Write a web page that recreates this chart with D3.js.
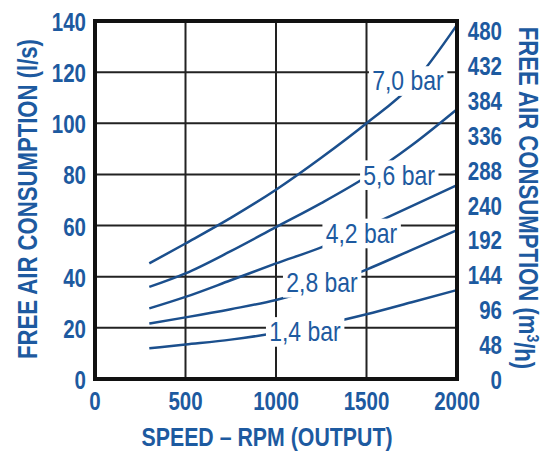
<!DOCTYPE html>
<html>
<head>
<meta charset="utf-8">
<script src="https://cdn.jsdelivr.net/npm/d3@7"></script>
<style>
  body { margin: 0; background: #fff; }
  text { font-family: "Liberation Sans", Arial, sans-serif; }
</style>
</head>
<body>
<script>
var outerWidth = 542;
var outerHeight = 452;

// speed (rpm) and free air consumption (l/s) for each pressure
var rpm = [300, 500, 750, 1000, 1250, 1500, 1750, 2000];
var bar14 = [12, 13.5, 15.4, 18, 21.2, 25.3, 30, 34.8];
var bar28 = [21.7, 24.1, 27.3, 30.9, 36, 42.8, 50.5, 58.2];
var bar42 = [27.6, 32.1, 38.6, 45.2, 51.5, 59.4, 67.6, 75.8];
var bar56 = [36, 41.3, 50, 59.4, 68.8, 79.1, 91.4, 105.5];
var bar70 = [45.2, 53, 63, 74, 86.5, 100, 115, 138.5];

var pressures = ['1,4 bar', '2,8 bar', '4,2 bar', '5,6 bar', '7,0 bar'];
var series = [bar14, bar28, bar42, bar56, bar70];
// where each pressure label sits (rpm, l/s)
var labelRpm = [1160, 1254, 1472, 1680, 1729];
var labelFlow = [18.7, 37.9, 57.2, 80, 116.8];

var xTicks = [0, 500, 1000, 1500, 2000];
var yTicks = [0, 20, 40, 60, 80, 100, 120, 140];
var y2Ticks = [0, 48, 96, 144, 192, 240, 288, 336, 384, 432, 480];

var blue = '#1d5aa0';
var lineBlue = '#1b4f8d';
var squeeze = 0.82; // condensed look

var svg = d3.select('body').append('svg')
  .attr('width', outerWidth)
  .attr('height', outerHeight);

var x = d3.scaleLinear().domain([0, 2000]).range([95, 457]);
var y = d3.scaleLinear().domain([0, 140]).range([379, 21]);
var y2 = d3.scaleLinear().domain([0, 480]).range([379, 30]);

function place(px, py, rot){
  return 'translate(' + px + ',' + py + ')' +
    (rot ? ' rotate(' + rot + ')' : '') + ' scale(' + squeeze + ',1)';
}

// grid
svg.append('g')
  .selectAll('line')
  .data(xTicks.slice(1, -1))
  .enter()
  .append('line')
  .attr('x1', function(d){ return x(d); })
  .attr('x2', function(d){ return x(d); })
  .attr('y1', y(0))
  .attr('y2', y(140))
  .attr('stroke', '#222')
  .attr('stroke-width', 2);

svg.append('g')
  .selectAll('line')
  .data(yTicks.slice(1, -1))
  .enter()
  .append('line')
  .attr('y1', function(d){ return y(d); })
  .attr('y2', function(d){ return y(d); })
  .attr('x1', x(0))
  .attr('x2', x(2000))
  .attr('stroke', '#222')
  .attr('stroke-width', 2);

// curves
var line = d3.line()
  .x(function(d){ return x(d[0]); })
  .y(function(d){ return y(d[1]); })
  .curve(d3.curveMonotoneX);

svg.append('g')
  .selectAll('path')
  .data(series)
  .enter()
  .append('path')
  .attr('d', function(s){
    return line(rpm.map(function(r, i){ return [r, s[i]]; }));
  })
  .attr('fill', 'none')
  .attr('stroke', lineBlue)
  .attr('stroke-width', 2.5);

// pressure labels on a white patch
var labels = svg.append('g')
  .selectAll('g')
  .data(pressures)
  .enter()
  .append('g')
  .attr('transform', function(d, i){
    return place(x(labelRpm[i]), y(labelFlow[i]));
  });

labels.append('rect').attr('fill', '#fff');

labels.append('text')
  .attr('text-anchor', 'middle')
  .attr('dy', '0.36em')
  .attr('fill', blue)
  .style('font-size', '28px')
  .text(function(d){ return d; });

labels.each(function(){
  var g = d3.select(this);
  var b = g.select('text').node().getBBox();
  g.select('rect')
    .attr('x', b.x - 4)
    .attr('y', b.y + 1)
    .attr('width', b.width + 8)
    .attr('height', b.height - 1);
});

// frame
svg.append('rect')
  .attr('x', x(0))
  .attr('y', y(140))
  .attr('width', x(2000) - x(0))
  .attr('height', y(0) - y(140))
  .attr('fill', 'none')
  .attr('stroke', '#111')
  .attr('stroke-width', 4);

// tick labels
function tickText(sel){
  sel.attr('dy', '0.36em')
    .attr('fill', blue)
    .style('font-size', '25px')
    .style('font-weight', 'bold')
    .text(function(d){ return d; });
}

svg.append('g')
  .selectAll('text')
  .data(yTicks)
  .enter()
  .append('text')
  .attr('transform', function(d){ return place(86, y(d) + 1); })
  .attr('text-anchor', 'end')
  .call(tickText);

svg.append('g')
  .selectAll('text')
  .data(y2Ticks)
  .enter()
  .append('text')
  .attr('transform', function(d){ return place(502, y2(d) + 1); })
  .attr('text-anchor', 'end')
  .call(tickText);

svg.append('g')
  .selectAll('text')
  .data(xTicks)
  .enter()
  .append('text')
  .attr('transform', function(d){ return place(x(d), 401); })
  .attr('text-anchor', 'middle')
  .call(tickText);

// axis titles
svg.append('text')
  .attr('transform', place(267, 437))
  .attr('dy', '0.36em')
  .attr('text-anchor', 'middle')
  .attr('fill', blue)
  .style('font-size', '26px')
  .style('font-weight', 'bold')
  .text('SPEED – RPM (OUTPUT)');

svg.append('text')
  .attr('transform', place(27, 199, -90))
  .attr('dy', '0.36em')
  .attr('text-anchor', 'middle')
  .attr('fill', blue)
  .style('font-size', '27px')
  .style('font-weight', 'bold')
  .text('FREE AIR CONSUMPTION (l/s)');

var rightTitle = svg.append('text')
  .attr('transform', place(529, 198, 90))
  .attr('dy', '0.36em')
  .attr('text-anchor', 'middle')
  .attr('fill', blue)
  .style('font-size', '27px')
  .style('font-weight', 'bold');

rightTitle.append('tspan').text('FREE AIR CONSUMPTION (m');
rightTitle.append('tspan').attr('dy', '-0.45em').style('font-size', '17px').text('3');
rightTitle.append('tspan').attr('dy', '0.45em').text('/h)');
</script>
</body>
</html>
